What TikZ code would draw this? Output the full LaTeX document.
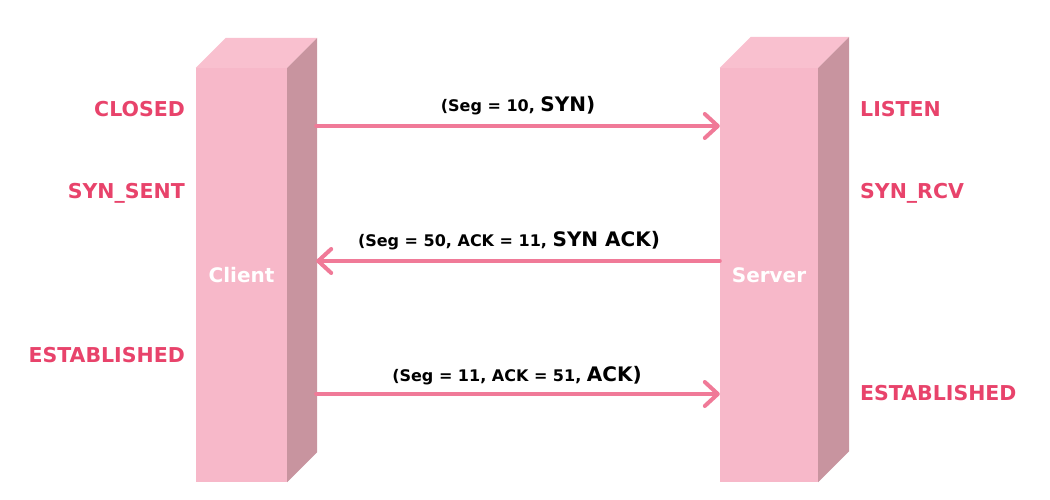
\documentclass[tikz,border=0pt]{standalone}
\usepackage{fontspec}
\setmainfont{DejaVu Sans}
\usetikzlibrary{arrows.meta,calc}
\definecolor{frontc}{HTML}{F7B8C9}
\definecolor{topc}{HTML}{F9C0CF}
\definecolor{sidec}{HTML}{C8949F}
\definecolor{arrowc}{HTML}{F07A98}
\definecolor{statec}{HTML}{E8436B}
\tikzset{
  pillar/.style={fill=frontc, draw=none, inner sep=0pt, text=white, font=\bfseries\fontsize{20}{24}\selectfont},
  topface/.style={fill=topc, draw=none},
  sideface/.style={fill=sidec, draw=none},
  msg/.style={draw=arrowc, line width=4pt, line cap=round,
    -{Straight Barb[length=13pt,width=24pt,line width=4pt,line cap=round,line join=round]}},
  msglabel/.style={inner sep=0pt, anchor=base, text=black, font=\bfseries},
  stateL/.style={inner sep=0pt, anchor=base east, text=statec, font=\bfseries\fontsize{20.5}{24}\selectfont},
  stateR/.style={inner sep=0pt, anchor=base west, text=statec, font=\bfseries\fontsize{20.5}{24}\selectfont},
}
\newcommand{\smtxt}{\fontsize{16}{19}\selectfont}
\newcommand{\bigtxt}{\fontsize{20}{24}\selectfont}
\begin{document}
\begin{tikzpicture}[x=1pt,y=-1pt]
\useasboundingbox (0,0) rectangle (1050,500);
% client pillar
\node[pillar, minimum width=91pt, minimum height=414pt] (client) at (241.5,275) {Client};
\fill[topface] (client.north west) -- ++(30,-30) -- ($(client.north east)+(30,-30)$) -- (client.north east) -- cycle;
\fill[sideface] (client.north east) -- ++(30,-30) -- ($(client.south east)+(30,-30)$) -- (client.south east) -- cycle;
% server pillar
\node[pillar, minimum width=98pt, minimum height=414pt] (server) at (769,275) {Server};
\fill[topface] (server.north west) -- ++(31,-31) -- ($(server.north east)+(31,-31)$) -- (server.north east) -- cycle;
\fill[sideface] (server.north east) -- ++(31,-31) -- ($(server.south east)+(31,-31)$) -- (server.south east) -- cycle;
\path (client.east) ++(29,0) coordinate (cside);
% messages
\draw[msg] (cside |- 0,126) -- (server.west |- 0,126);
\draw[msg] (server.west |- 0,261) -- (cside |- 0,261);
\draw[msg] (cside |- 0,394) -- (server.west |- 0,394);
\node[msglabel] (m1) at (518,112) {\smtxt(Seg = 10, \bigtxt SYN)};
\node[msglabel] (m2) at (509,246) {\smtxt(Seg = 50, ACK = 11, \bigtxt SYN ACK)};
\node[msglabel] (m3) at (517,381) {\smtxt(Seg = 11, ACK = 51, \bigtxt ACK)};
% states
\node[stateL] (s1) at (185,117) {CLOSED};
\node[stateL] (s2) at (185,199) {SYN\_SENT};
\node[stateL] (s3) at (185,362) {ESTABLISHED};
\node[stateR] (r1) at (860,117) {LISTEN};
\node[stateR] (r2) at (860,199) {SYN\_RCV};
\node[stateR] (r3) at (860,400) {ESTABLISHED};
\end{tikzpicture}
\end{document}
